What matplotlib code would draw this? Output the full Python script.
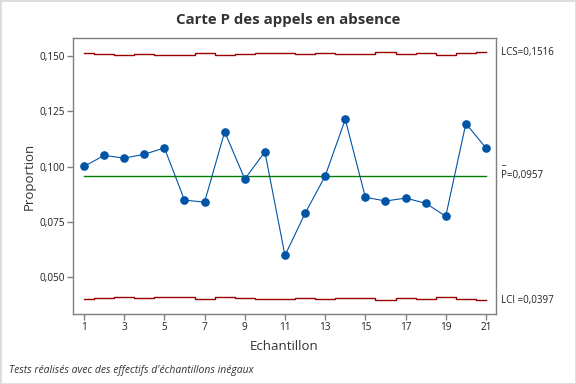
import matplotlib
matplotlib.use("Agg")
import matplotlib.pyplot as plt
from matplotlib.patches import Rectangle

# ---- data ----
samples = list(range(1, 22))
proportion = [0.1001, 0.1051, 0.1039, 0.1056, 0.1085, 0.0849, 0.0840, 0.1158,
              0.0944, 0.1067, 0.0599, 0.0789, 0.0958, 0.1214, 0.0862, 0.0845,
              0.0858, 0.0835, 0.0776, 0.1195, 0.1085]
ucl = [0.1512, 0.1508, 0.1503, 0.1508, 0.1503, 0.1503, 0.1512, 0.1503,
       0.1508, 0.1512, 0.1512, 0.1508, 0.1512, 0.1508, 0.1508, 0.1517,
       0.1508, 0.1512, 0.1503, 0.1512, 0.1517]
lcl = [0.0402, 0.0406, 0.0411, 0.0406, 0.0411, 0.0411, 0.0402, 0.0411,
       0.0406, 0.0402, 0.0402, 0.0406, 0.0402, 0.0406, 0.0406, 0.0397,
       0.0406, 0.0402, 0.0411, 0.0402, 0.0397]
p_bar = 0.0957
xticks = list(range(1, 22, 2))
yticks = [0.050, 0.075, 0.100, 0.125, 0.150]
ytick_labels = ["0,050", "0,075", "0,100", "0,125", "0,150"]
title = "Carte P des appels en absence"
xlabel = "Echantillon"
ylabel = "Proportion"
footnote = "Tests réalisés avec des effectifs d'échantillons inégaux"
ucl_label = "LCS=0,1516"
cl_label = "P=0,0957"
lcl_label = "LCI =0,0397"

plt.rcParams['font.family'] = ['Open Sans', 'DejaVu Sans']

fig = plt.figure(figsize=(5.76, 3.84), dpi=100)
ax = fig.add_axes([73/576, 1-314/384, (496-73)/576, (314-38)/384])

spine_c = "#7f7f7f"
for s in ax.spines.values():
    s.set_color(spine_c)
    s.set_linewidth(1.0)

ax.plot(samples, ucl, drawstyle='steps-mid', color="#990000", lw=1.0)
ax.plot(samples, lcl, drawstyle='steps-mid', color="#990000", lw=1.0)
ax.plot([samples[0], samples[-1]], [p_bar, p_bar], color="#008000", lw=1.0)
ax.plot(samples, proportion, color="#0054a6", lw=0.8, marker='o',
        markersize=5.2, markerfacecolor="#0054a6", markeredgecolor="#0054a6")

ax.set_xlim(0.453, 21.5)
ax.set_ylim(0.03344, 0.15816)
ax.set_xticks(xticks)
ax.set_xticklabels([str(t) for t in xticks])
ax.set_yticks(yticks)
ax.set_yticklabels(ytick_labels)
ax.tick_params(axis='both', labelsize=7.2, color=spine_c, length=4, width=1,
               labelcolor="#222222", pad=2)

ax.set_xlabel(xlabel, fontsize=9.5, color="#333333", labelpad=5)
ax.set_ylabel(ylabel, fontsize=9.5, color="#333333")
ax.yaxis.set_label_coords((36-73)/423, 0.5)
fig.text(0.5, 1-20/384, title, ha='center', va='center', fontsize=10.8,
         fontweight='bold', color="#333333")
fig.text(9/576, 1-370/384, footnote, ha='left', va='center', fontsize=7.5,
         style='italic', color="#333333")

tx = 501/576
fig.text(tx, 1-52.5/384, ucl_label, ha='left', va='center', fontsize=7, color="#222222")
fig.text(tx, 1-162/384, "_", ha='left', va='center', fontsize=7, color="#222222")
fig.text(tx, 1-176/384, cl_label, ha='left', va='center', fontsize=7, color="#222222")
fig.text(tx, 1-300.5/384, lcl_label, ha='left', va='center', fontsize=7, color="#222222")

fig.patches.append(Rectangle((0, 0), 1, 1, transform=fig.transFigure,
                             fill=False, edgecolor="#dcdcdc", lw=2))

fig.savefig("out.png", dpi=100)
